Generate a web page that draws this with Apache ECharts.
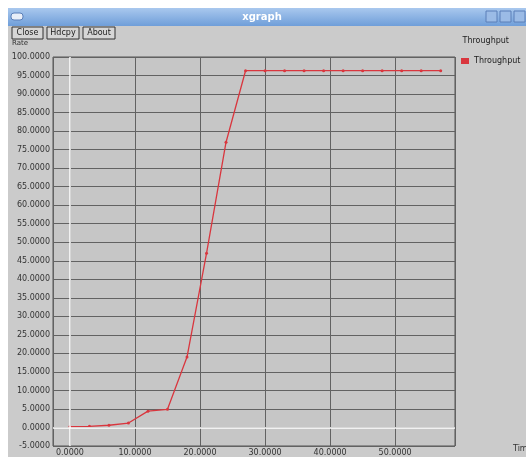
<!DOCTYPE html>
<html lang="en">
<head>
    <meta charset="UTF-8">
    <title>xgraph</title>
    <script src="https://cdn.jsdelivr.net/npm/echarts@6/dist/echarts.min.js"></script>
</head>
<style>
html,body{margin: 0;padding: 0;background: #fff}
#chartBox{width: 526px;height: 457px}
</style>
<body>
    <div id="chartBox"></div>
</body>
<script>
// data
const seriesName = "Throughput";
const xValues = [0, 3, 6, 9, 12, 15, 18, 21, 24, 27, 30, 33, 36, 39, 42, 45, 48, 51, 54, 57];
const yValues = [0.2, 0.3, 0.6, 1.2, 4.4, 4.9, 19, 47, 77, 96.3, 96.3, 96.3, 96.3, 96.3, 96.3, 96.3, 96.3, 96.3, 96.3, 96.3];
const menuButtons = ["Close", "Hdcpy", "About"];

let font = "DejaVu Sans";

// window chrome: title bar and buttons
function windowChrome() {
    let els = [
        {type: 'rect', z: -20, shape: {x: 8, y: 8, width: 518, height: 449}, style: {fill: '#cbcbcb'}},
        {type: 'rect', z: -19, shape: {x: 8, y: 8, width: 518, height: 18},
            style: {fill: new echarts.graphic.LinearGradient(0, 0, 0, 1, [
                {offset: 0, color: '#a9c8ee'}, {offset: 1, color: '#6f9ed9'}])}},
        {type: 'text', z: 5, style: {x: 262, y: 17, text: 'xgraph', fill: '#fff', font: 'bold 10px ' + font, align: 'center', verticalAlign: 'middle'}},
        {type: 'rect', z: 5, shape: {x: 11, y: 13, width: 12, height: 7, r: 3}, style: {fill: '#e8eef8', stroke: '#5a7fb8'}},
        {type: 'rect', z: 5, shape: {x: 486, y: 11, width: 11, height: 11}, style: {fill: '#9bbbe6', stroke: '#5a7fb8'}},
        {type: 'rect', z: 5, shape: {x: 500, y: 11, width: 11, height: 11}, style: {fill: '#9bbbe6', stroke: '#5a7fb8'}},
        {type: 'rect', z: 5, shape: {x: 514, y: 11, width: 11, height: 11}, style: {fill: '#9bbbe6', stroke: '#5a7fb8'}},
        {type: 'text', z: 5, style: {x: 12, y: 43, text: 'Rate', fill: '#333', font: '7px ' + font, verticalAlign: 'middle'}},
        {type: 'text', z: 5, style: {x: 513, y: 449, text: 'Time', fill: '#333', font: '8px ' + font, verticalAlign: 'middle'}}
    ];
    let bx = 12;
    let widths = [31, 32, 32];
    for (let i = 0; i < menuButtons.length; i++) {
        els.push({type: 'rect', z: 5, shape: {x: bx, y: 27, width: widths[i], height: 12},
            style: {fill: '#d6d6d6', stroke: '#333', lineWidth: 1}});
        els.push({type: 'text', z: 6, style: {x: bx + widths[i] / 2, y: 33, text: menuButtons[i], fill: '#222',
            font: '8px ' + font, align: 'center', verticalAlign: 'middle'}});
        bx += widths[i] + 4;
    }
    return els;
}

let chartObj = echarts.init(document.getElementById('chartBox'));
let option = {
    animation: false,
    backgroundColor: '#ffffff',
    title: {
        text: seriesName,
        right: 12,
        top: 32,
        textStyle: {fontSize: 8, fontWeight: 'normal', color: '#222', fontFamily: font}
    },
    legend: {
        left: 456,
        top: 52,
        itemWidth: 8,
        itemHeight: 6,
        itemGap: 4,
        icon: 'rect',
        textStyle: {fontSize: 8, color: '#222', fontFamily: font},
        data: [seriesName]
    },
    grid: {
        left: 53,
        right: 71,
        top: 57,
        bottom: 5,
        show: true,
        backgroundColor: '#c6c6c6',
        borderColor: '#555',
        borderWidth: 1
    },
    xAxis: {
        type: 'value',
        min: -2.6,
        max: 59.2,
        splitNumber: 6,
        axisLine: {show: false},
        axisTick: {show: false},
        axisLabel: {
            showMinLabel: false,
            showMaxLabel: false,
            margin: 3,
            fontSize: 8,
            color: '#333',
            fontFamily: font,
            formatter: v => v.toFixed(4)
        },
        splitLine: {lineStyle: {color: '#626262', width: 1}}
    },
    yAxis: {
        type: 'value',
        min: -5,
        max: 100,
        interval: 5,
        axisLine: {show: false},
        axisTick: {show: false},
        axisLabel: {
            margin: 3,
            fontSize: 8,
            color: '#333',
            fontFamily: font,
            formatter: v => v.toFixed(4)
        },
        splitLine: {lineStyle: {color: '#626262', width: 1}}
    },
    graphic: windowChrome(),
    series: [{
        type: 'line',
        name: seriesName,
        data: xValues.map((x, i) => [x, yValues[i]]),
        color: '#d9363e',
        symbol: 'circle',
        symbolSize: 3,
        lineStyle: {width: 1.3, color: '#d9363e'},
        markLine: {
            silent: true,
            symbol: 'none',
            label: {show: false},
            lineStyle: {color: '#ffffff', type: 'solid', width: 1.5},
            data: [{xAxis: 0}, {yAxis: 0}]
        }
    }]
};
chartObj.setOption(option, true);
</script>
</html>
